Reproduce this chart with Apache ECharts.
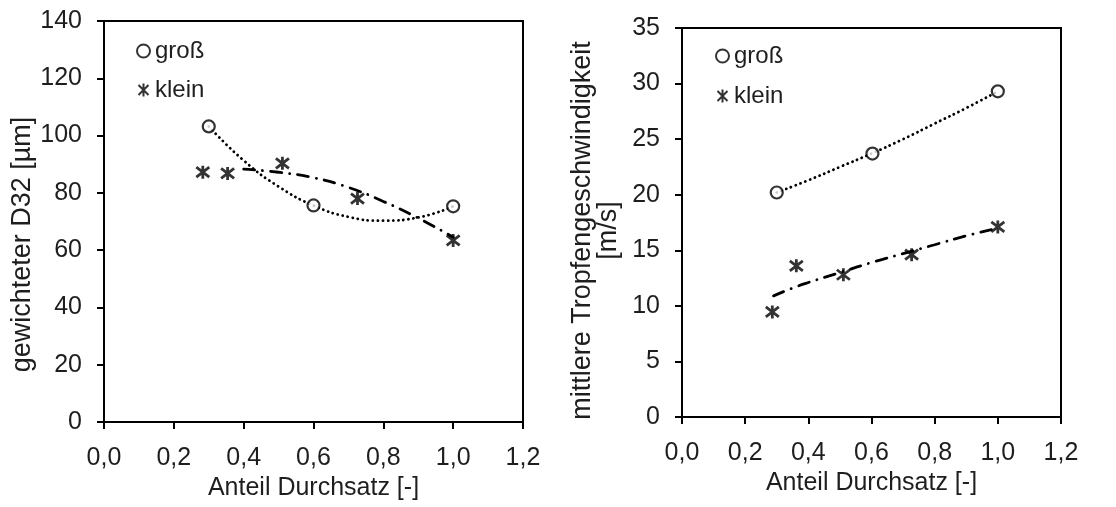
<!DOCTYPE html>
<html>
<head>
    <meta charset="utf-8">
    <title>Durchsatz</title>
    <script src="https://cdn.jsdelivr.net/npm/echarts@6/dist/echarts.min.js"></script>
    <style>
        body { margin: 0; background: #fff; }
    </style>
</head>
<body>
    <div id="main" style="width: 1116px;height:507px;"></div>
    <script type="text/javascript">
        // links: gewichteter D32
        var d32Gross = [[0.30, 103.2], [0.60, 75.6], [1.00, 75.3]];
        var d32Klein = [[0.283, 87.2], [0.354, 86.8], [0.511, 90.3], [0.726, 78.0], [1.00, 63.4]];
        var d32GrossTrend = [[0.30, 103.2], [0.40, 91.3], [0.50, 82.2], [0.60, 75.6], [0.70, 71.6], [0.80, 70.3], [0.90, 71.4], [1.00, 75.3]];
        var d32KleinTrend = [[0.40, 88.3], [0.50, 87.2], [0.60, 85.3], [0.70, 81.9], [0.80, 77.0], [0.90, 71.2], [1.00, 64.5]];

        // rechts: mittlere Tropfengeschwindigkeit
        var vGross = [[0.30, 20.2], [0.603, 23.7], [1.00, 29.3]];
        var vKlein = [[0.286, 9.45], [0.362, 13.6], [0.511, 12.8], [0.727, 14.6], [1.00, 17.1]];
        var vGrossTrend = [[0.30, 20.2], [0.40, 21.3], [0.50, 22.5], [0.60, 23.7], [0.70, 25.0], [0.80, 26.4], [0.90, 27.8], [1.00, 29.3]];
        var vKleinTrend = [[0.29, 10.9], [0.35, 11.6], [0.40, 12.1], [0.50, 13.0], [0.60, 13.9], [0.70, 14.7], [0.80, 15.5], [0.90, 16.3], [1.00, 17.0]];

        var starPath = 'path://M0,0 L10,10 M10,0 L0,10 M5,-1.5 L5,11.5';
        var txt = '#1e1e1e';
        var font = 'Liberation Sans, Arial, sans-serif';

        var myChart = echarts.init(document.getElementById('main'));

        function xAxis(grid) {
            return {
                type: 'value', gridIndex: grid, min: 0, max: 1.2, interval: 0.2,
                name: 'Anteil Durchsatz [-]', nameLocation: 'middle', nameGap: 53,
                nameTextStyle: { color: txt, fontSize: 25, fontFamily: font },
                axisLine: { onZero: false, lineStyle: { color: '#000', width: 2 } },
                axisTick: { length: 7, lineStyle: { color: '#000', width: 2 } },
                axisLabel: { color: txt, fontSize: 25, fontFamily: font, margin: 24,
                    formatter: function (v) { return v.toFixed(1).replace('.', ','); } },
                splitLine: { show: false }
            };
        }

        function yAxis(grid, max, step, name, gap, size, pad) {
            return {
                type: 'value', gridIndex: grid, min: 0, max: max, interval: step,
                name: name, nameLocation: 'middle', nameGap: gap,
                nameTextStyle: { color: txt, fontSize: size, fontFamily: font, lineHeight: 26, padding: pad },
                axisLine: { onZero: false, lineStyle: { color: '#000', width: 2 } },
                axisTick: { length: 7, lineStyle: { color: '#000', width: 2 } },
                axisLabel: { color: txt, fontSize: 25, fontFamily: font, margin: 22 },
                splitLine: { show: false }
            };
        }

        function scatter(name, data, grid, star) {
            return {
                name: name, type: 'scatter', data: data,
                xAxisIndex: grid, yAxisIndex: grid,
                symbol: star ? starPath : 'circle',
                symbolSize: star ? 13 : 12,
                itemStyle: star
                    ? { color: 'none', borderColor: '#000', borderWidth: 2.8 }
                    : { color: '#fff', borderColor: '#000', borderWidth: 2.2 },
                z: 3
            };
        }

        function trend(data, grid, dash) {
            return {
                name: 'trend', type: 'line', data: data, smooth: true,
                xAxisIndex: grid, yAxisIndex: grid,
                showSymbol: false, silent: true,
                lineStyle: { color: '#000', width: 2.8, type: dash, cap: 'round' },
                z: 2
            };
        }

        var dotted = [0.1, 5];
        var dashDot = [11, 8, 0.1, 8];

        option = {
            animation: false,
            legend: [
                {
                    data: ['groß', 'klein'], orient: 'vertical', left: 131, top: 34,
                    itemGap: 15, itemWidth: 13, itemHeight: 13,
                    textStyle: { color: txt, fontSize: 24, fontFamily: font }, selectedMode: false
                },
                {
                    data: ['groß', 'klein'], orient: 'vertical', left: 710, top: 39,
                    itemGap: 16, itemWidth: 13, itemHeight: 13,
                    textStyle: { color: txt, fontSize: 24, fontFamily: font }, selectedMode: false
                }
            ],
            grid: [
                { left: 104, top: 21, width: 419, height: 401, show: true, borderColor: '#000', borderWidth: 2 },
                { left: 682, top: 28, width: 379, height: 389, show: true, borderColor: '#000', borderWidth: 2 }
            ],
            xAxis: [xAxis(0), xAxis(1)],
            yAxis: [
                yAxis(0, 140, 20, 'gewichteter D32 [µm]', 68, 27, [0, 46, 0, 0]),
                yAxis(1, 35, 5, 'mittlere Tropfengeschwindigkeit\n[m/s]', 60, 27, [0, 16, 0, 0])
            ],
            series: [
                trend(d32GrossTrend, 0, dotted),
                trend(d32KleinTrend, 0, dashDot),
                scatter('groß', d32Gross, 0, false),
                scatter('klein', d32Klein, 0, true),
                trend(vGrossTrend, 1, dotted),
                trend(vKleinTrend, 1, dashDot),
                scatter('groß', vGross, 1, false),
                scatter('klein', vKlein, 1, true)
            ]
        };
        myChart.setOption(option);
    </script>
</body>
</html>
